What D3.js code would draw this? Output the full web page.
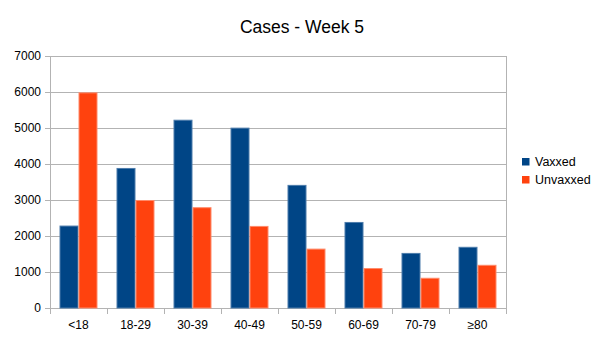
<!DOCTYPE html>
<html>
<head>
<meta charset="utf-8">
<script src="https://cdn.jsdelivr.net/npm/d3@7"></script>
<style>
  body { margin: 0; background: #fff; }
  text { font-family: "Liberation Sans", Arial, sans-serif; }
</style>
</head>
<body>
<div id="chart"></div>
<script>
// age groups and weekly case counts
const ageGroups = ['<18', '18-29', '30-39', '40-49', '50-59', '60-69', '70-79', '≥80'];
const vaxxed = [2290, 3890, 5230, 5010, 3420, 2390, 1530, 1700];
const unvaxxed = [5990, 3000, 2800, 2280, 1650, 1110, 840, 1200];
const seriesNames = ['Vaxxed', 'Unvaxxed'];
const seriesColours = ['#004586', '#ff420e'];
const strokeColours = ['#4d7cab', '#ff8a6a'];
const yTicks = [0, 1000, 2000, 3000, 4000, 5000, 6000, 7000];

const width = 605, height = 340;
const margin = {left: 50, right: 99, top: 56, bottom: 32};
const plotW = width - margin.left - margin.right;
const plotH = height - margin.top - margin.bottom;

const svg = d3.select('#chart').append('svg')
    .attr('width', width)
    .attr('height', height);

// title
svg.append('text')
    .attr('x', 302)
    .attr('y', 33)
    .attr('text-anchor', 'middle')
    .style('font-size', '17.5px')
    .style('fill', '#000')
    .text('Cases - Week 5');

const g = svg.append('g')
    .attr('transform', `translate(${margin.left}, ${margin.top})`);

const x = d3.scaleBand()
    .domain(ageGroups)
    .range([0, plotW]);

// bars take up 2/3 of each category slot
const barW = x.bandwidth() / 3;
const y = d3.scaleLinear()
    .domain([0, 7000])
    .range([plotH, 0]);

// horizontal grid lines
g.append('g').selectAll('line')
    .data(yTicks)
    .enter()
    .append('line')
        .attr('x1', -5)
        .attr('x2', plotW)
        .attr('y1', d => Math.round(y(d)) + 0.5)
        .attr('y2', d => Math.round(y(d)) + 0.5)
        .style('stroke', '#b3b3b3')
        .style('stroke-width', 1);

// y axis labels
g.append('g').selectAll('text')
    .data(yTicks)
    .enter()
    .append('text')
        .attr('x', -9)
        .attr('y', d => y(d) + 4.3)
        .attr('text-anchor', 'end')
        .style('font-size', '12px')
        .style('fill', '#000')
        .text(d => d);

// bars, one group per age band
const series = [vaxxed, unvaxxed];
g.append('g').selectAll('g')
    .data(ageGroups)
    .enter()
    .append('g')
        .attr('transform', d => `translate(${x(d) + x.bandwidth() / 6}, 0)`)
    .selectAll('rect')
        .data((d, i) => series.map((s, k) => ({value: s[i], k: k})))
        .enter()
        .append('rect')
            .attr('x', d => d.k * barW + 0.5)
            .attr('y', d => y(d.value) + 0.5)
            .attr('width', barW - 1)
            .attr('height', d => plotH - y(d.value) - 0.5)
            .style('fill', d => seriesColours[d.k])
            .style('stroke', d => strokeColours[d.k])
            .style('stroke-width', 1);

// axis lines and category ticks
const axisStroke = '#b3b3b3';
g.append('line')
    .attr('x1', 0.5).attr('x2', 0.5)
    .attr('y1', 0).attr('y2', plotH + 6)
    .style('stroke', axisStroke);
g.append('line')
    .attr('x1', plotW + 0.5).attr('x2', plotW + 0.5)
    .attr('y1', 0).attr('y2', plotH + 6)
    .style('stroke', axisStroke);
g.append('g').selectAll('line')
    .data(ageGroups.slice(1))
    .enter()
    .append('line')
        .attr('x1', d => Math.round(x(d)) + 0.5)
        .attr('x2', d => Math.round(x(d)) + 0.5)
        .attr('y1', plotH)
        .attr('y2', plotH + 6)
        .style('stroke', axisStroke);

// x axis labels
g.append('g').selectAll('text')
    .data(ageGroups)
    .enter()
    .append('text')
        .attr('x', d => x(d) + x.bandwidth() / 2)
        .attr('y', plotH + 21)
        .attr('text-anchor', 'middle')
        .style('font-size', '12px')
        .style('fill', '#000')
        .text(d => d);

// legend
const legend = svg.append('g')
    .attr('transform', 'translate(522, 158)');
const item = legend.selectAll('g')
    .data(seriesNames)
    .enter()
    .append('g')
        .attr('transform', (d, i) => `translate(0, ${i * 18})`);
item.append('rect')
    .attr('width', 7.5)
    .attr('height', 7.5)
    .style('fill', (d, i) => seriesColours[i]);
item.append('text')
    .attr('x', 13)
    .attr('y', 7.5)
    .style('font-size', '12.5px')
    .style('fill', '#000')
    .text(d => d);
</script>
</body>
</html>
